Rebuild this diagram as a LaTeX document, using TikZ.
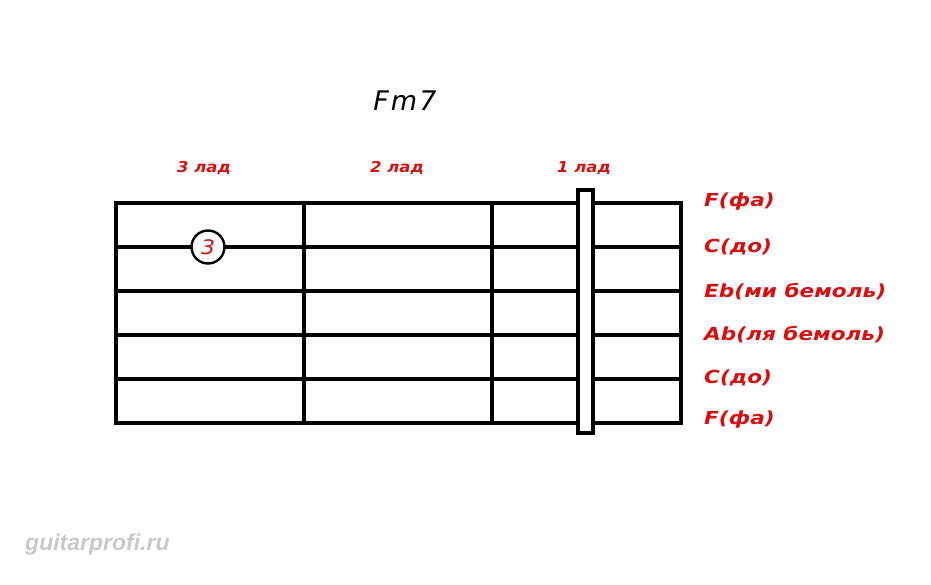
\documentclass[tikz,border=0pt]{standalone}
\usepackage{fontspec}
\setmainfont{DejaVu Sans}
\newfontfamily\labfont[FakeStretch=1.2]{DejaVu Sans}
\newfontfamily\fretfont[FakeStretch=1.1]{DejaVu Sans}
\newfontfamily\titlefont[LetterSpace=8]{DejaVu Sans}
\newfontfamily\wmfont{Liberation Sans}
\definecolor{chordred}{RGB}{215,15,15}
\definecolor{wmgray}{RGB}{200,200,200}
\begin{document}
\begin{tikzpicture}[x=1pt,y=-1pt,
  gridline/.style={line width=3.2pt,line cap=rect},
  fretlab/.style={text=chordred,font=\fretfont\bfseries\itshape\fontsize{15}{15}\selectfont,inner sep=0pt},
  strlab/.style={text=chordred,font=\labfont\bfseries\itshape\fontsize{18}{18}\selectfont,anchor=west,inner sep=0pt},
  finger/.style={circle,draw=black,line width=2.4pt,fill=white,minimum size=33pt,inner sep=0pt,text=chordred,font=\fretfont\itshape\fontsize{20}{20}\selectfont},
  barre/.style={draw=black,line width=3.2pt,fill=white}]
\useasboundingbox (0,0) rectangle (931,585);
% strings
\foreach \i/\y in {1/203,2/247,3/291,4/335,5/379,6/423}{
  \coordinate (sL\i) at (116,\y);
  \coordinate (sR\i) at (681,\y);
  \draw[gridline] (sL\i) -- (sR\i);
}
% frets
\foreach \j/\x in {0/116,1/304,2/492,3/681}{
  \coordinate (fT\j) at (\x,203);
  \coordinate (fB\j) at (\x,423);
  \draw[gridline] (fT\j) -- (fB\j);
}
% barre
\draw[barre] (578,190) rectangle (593,433);
% finger
\node[finger] (f3) at (208,247) {3};
% title
\node[font=\titlefont\itshape\fontsize{27}{27}\selectfont] (title) at (405,101) {Fm7};
% fret labels
\node[fretlab] (l3) at (204,168) {3 лад};
\node[fretlab] (l2) at (397,168) {2 лад};
\node[fretlab] (l1) at (584,168) {1 лад};
% string labels
\node[strlab] (n1) at (704,202) {F(фа)};
\node[strlab] (n2) at (704,247) {C(до)};
\node[strlab] (n3) at (704,292) {Eb(ми бемоль)};
\node[strlab] (n4) at (704,335) {Ab(ля бемоль)};
\node[strlab] (n5) at (704,378) {C(до)};
\node[strlab] (n6) at (704,420) {F(фа)};
% watermark
\node[text=wmgray,font=\wmfont\bfseries\itshape\fontsize{23}{23}\selectfont,anchor=west,inner sep=0pt] (wm) at (25,545) {guitarprofi.ru};
\end{tikzpicture}
\end{document}
